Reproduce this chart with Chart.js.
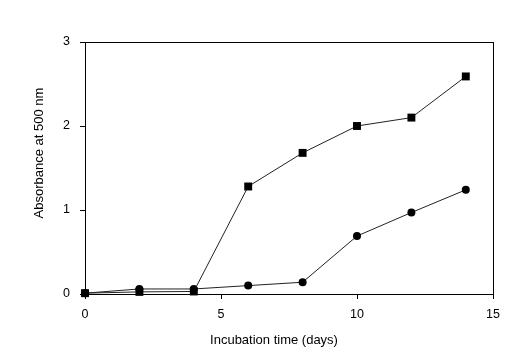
<!DOCTYPE html>
<html>
<head>
<meta charset="utf-8">
<script src="https://cdn.jsdelivr.net/npm/chart.js@4/dist/chart.umd.min.js"></script>
<style>
  html, body { margin: 0; padding: 0; background: #fff; }
  #wrap { width: 523px; height: 359px; }
</style>
</head>
<body>
<div id="wrap"><canvas id="myChart" width="523" height="359"></canvas></div>
<script>
var days = [0, 2, 4, 6, 8, 10, 12, 14]
var squareValues = [0.01, 0.025, 0.03, 1.28, 1.68, 2.0, 2.1, 2.59]
var circleValues = [0.01, 0.06, 0.06, 0.1, 0.14, 0.69, 0.97, 1.24]
var xTitle = 'Incubation time (days)'
var yTitle = 'Absorbance at 500 nm'

const fontFamily = 'Arial, "Liberation Sans", sans-serif'
const tickFont = { family: fontFamily, size: 12.5 }
const titleSize = 13

// frame round the plot area + axis titles at Excel-ish spots
const framePlugin = {
  id: 'frame',
  afterDatasetsDraw(chart) {
    const { ctx, chartArea } = chart
    ctx.save()
    ctx.strokeStyle = '#000'
    ctx.lineWidth = 1
    ctx.strokeRect(chartArea.left + 0.5, chartArea.top + 0.5,
      chartArea.right - chartArea.left, chartArea.bottom - chartArea.top)
    ctx.fillStyle = '#000'
    ctx.font = titleSize + 'px ' + fontFamily
    ctx.textAlign = 'center'
    ctx.textBaseline = 'middle'
    ctx.fillText(xTitle, 274, 340)
    ctx.translate(39, 153)
    ctx.rotate(-Math.PI / 2)
    ctx.fillText(yTitle, 0, 0)
    ctx.restore()
  }
}

function generateGraph() {
  const toPoints = values => days.map((d, i) => ({ x: d, y: values[i] }))

  const ctx = document.getElementById('myChart').getContext('2d')
  const myChart = new Chart(ctx, {
    type: 'line',
    data: {
      datasets: [
        {
          label: 'squares',
          data: toPoints(squareValues),
          borderColor: '#222',
          borderWidth: 1,
          pointStyle: 'rect',
          pointRadius: 5.6,
          pointBackgroundColor: '#000',
          pointBorderColor: '#000',
          pointBorderWidth: 0,
          clip: false,
        },
        {
          label: 'circles',
          data: toPoints(circleValues),
          borderColor: '#222',
          borderWidth: 1,
          pointStyle: 'circle',
          pointRadius: 4,
          pointBackgroundColor: '#000',
          pointBorderColor: '#000',
          pointBorderWidth: 0,
          clip: false,
        },
      ],
    },
    options: {
      responsive: false,
      animation: false,
      layout: { padding: { left: 0, right: 30, top: 42, bottom: 0 } },
      plugins: { legend: { display: false }, tooltip: { enabled: false } },
      scales: {
        x: {
          type: 'linear',
          min: 0,
          max: 15,
          afterFit: scale => { scale.height = 65 },
          ticks: { stepSize: 5, color: '#000', font: tickFont, padding: 8 },
          grid: { drawOnChartArea: false, tickLength: 5, color: '#000' },
          border: { color: '#000' },
        },
        y: {
          min: 0,
          max: 3,
          afterFit: scale => { scale.width = 85 },
          ticks: { stepSize: 1, color: '#000', font: tickFont, padding: 10 },
          grid: { drawOnChartArea: false, tickLength: 5, color: '#000' },
          border: { color: '#000' },
        },
      },
    },
    plugins: [framePlugin],
  })
}

generateGraph()
</script>
</body>
</html>
